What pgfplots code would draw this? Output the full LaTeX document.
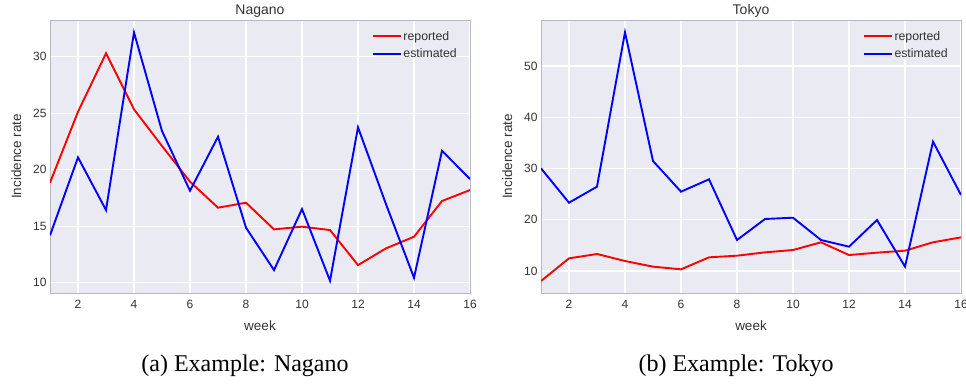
\documentclass[border=0pt]{standalone}
\usepackage{pgfplots}
\pgfplotsset{compat=1.18}
\usepackage{fontspec}
\setmainfont{Liberation Sans}
\newfontfamily\capfont{Liberation Serif}
\definecolor{sbbg}{HTML}{EAEAF2}
\definecolor{sbframe}{HTML}{B8B8C2}
\definecolor{sbtext}{HTML}{333333}
\pgfplotstableread{
w rep est
1 18.85 14.19
2 25.13 21.09
3 30.30 16.43
4 25.34 32.15
5 22.10 23.42
6 18.94 18.14
7 16.64 22.92
8 17.08 14.87
9 14.72 11.12
10 14.96 16.52
11 14.66 10.18
12 11.56 23.75
13 13.04 16.95
14 14.07 10.44
15 17.23 21.68
16 18.20 19.17
}\nagano
\pgfplotstableread{
w rep est
1 8.05 30.03
2 12.47 23.33
3 13.32 26.46
4 11.95 56.57
5 10.85 31.46
6 10.33 25.48
7 12.67 27.89
8 12.99 16.05
9 13.64 20.15
10 14.10 20.40
11 15.60 16.05
12 13.12 14.75
13 13.58 19.95
14 13.97 10.85
15 15.60 35.24
16 16.57 24.83
}\tokyo
\pgfplotsset{
  sbstyle/.style={
    scale only axis, width=420bp, height=273bp,
    axis background/.style={fill=sbbg},
    axis line style={sbframe, line width=0.8bp},
    grid=major, major grid style={white, line width=1.1bp},
    tick style={draw=none},
    xmin=1, xmax=16, xtick={2,4,...,16},
    ticklabel style={font=\fontsize{12bp}{14bp}\selectfont, text=sbtext},
    xticklabel style={yshift=-4bp},
    /pgf/number format/assume math mode=true,
    label style={font=\fontsize{13.5bp}{16bp}\selectfont, text=sbtext},
    title style={font=\fontsize{14bp}{16bp}\selectfont, text=sbtext, yshift=-7bp},
    xlabel={week}, ylabel={Incidence rate},
    xlabel style={yshift=-5bp},
    ylabel style={yshift=5bp},
    legend cell align=left,
    legend style={draw=none, fill=none, at={(1,1)}, anchor=north east,
      xshift=-8bp, yshift=-7bp, font=\fontsize{12.3bp}{14bp}\selectfont,
      text=sbtext, row sep=3bp},
    legend image code/.code={\draw[##1] (0bp,0bp) -- (28bp,0bp);},
    every axis plot/.append style={line width=1.9bp},
  }
}
\begin{document}
\begin{tikzpicture}
\useasboundingbox (0bp,0bp) rectangle (966bp,390bp);
\begin{axis}[sbstyle, at={(50bp,97bp)}, anchor=south west,
  ymin=9.09, ymax=33.25, ytick={10,15,...,30}, title={Nagano}]
\addplot[red] table[x=w,y=rep]{\nagano};
\addlegendentry{reported}
\addplot[blue] table[x=w,y=est]{\nagano};
\addlegendentry{estimated}
\end{axis}
\begin{axis}[sbstyle, at={(541bp,97bp)}, anchor=south west,
  ymin=5.71, ymax=58.98, ytick={10,20,...,50}, title={Tokyo}]
\addplot[red] table[x=w,y=rep]{\tokyo};
\addlegendentry{reported}
\addplot[blue] table[x=w,y=est]{\tokyo};
\addlegendentry{estimated}
\end{axis}
\node[font=\capfont\fontsize{24bp}{28bp}\selectfont] at (245bp,24bp) {(a) Example: Nagano};
\node[font=\capfont\fontsize{24bp}{28bp}\selectfont] at (736bp,24bp) {(b) Example: Tokyo};
\end{tikzpicture}
\end{document}
